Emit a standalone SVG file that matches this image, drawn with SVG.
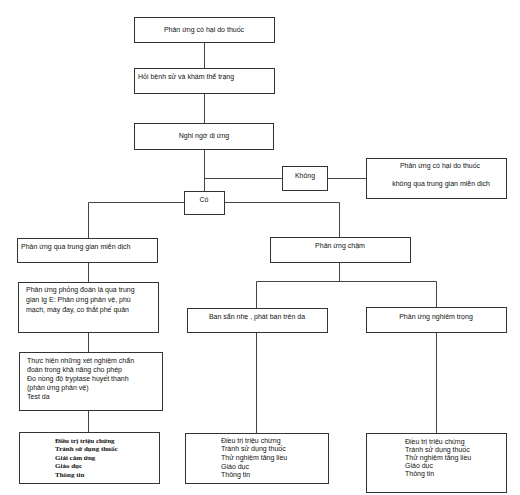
<svg xmlns="http://www.w3.org/2000/svg" width="520" height="495" viewBox="0 0 520 495">
<style>
.box{fill:#fff;stroke:#333;stroke-width:1}
.ln{fill:none;stroke:#444;stroke-width:1}
.t{font-family:"Liberation Sans",Arial,sans-serif;font-size:7px;fill:#111}
.c{text-anchor:middle}
.s{font-family:"Liberation Serif","Times New Roman",serif;font-size:7px;font-weight:bold;fill:#111}
</style>
<rect width="520" height="495" fill="#fff"/>
<g id="connectors">
<path class="ln" d="M204.5 42V68M204.5 93V123M204.5 150V191M204.5 178.5H282M328 178.5H366"/>
<path class="ln" d="M184 202.5H88.5V238M224 202.5H339.5V237M339.5 262V281.5M256.5 281.5H436.5M256.5 281.5V308M436.5 281.5V307"/>
<path class="ln" d="M88.5 262V282M88.5 332V352M88.5 410V432M256.5 332V433M436.5 332V433"/>
</g>
<g id="n1"><rect class="box" x="134.5" y="17.5" width="140" height="25"/><text class="t c" x="204" y="32">Phản ứng có hại do thuốc</text></g>
<g id="n2"><rect class="box" x="134.5" y="68.5" width="140" height="25"/><text class="t" x="138" y="79">Hỏi bệnh sử và khám thể trạng</text></g>
<g id="n3"><rect class="box" x="134.5" y="123.5" width="139" height="26"/><text class="t c" x="204" y="138">Nghi ngờ dị ứng</text></g>
<g id="n4"><rect class="box" x="282.5" y="166.5" width="45" height="24"/><text class="t c" x="305" y="178">Không</text></g>
<g id="n5"><rect class="box" x="366.5" y="158.5" width="140" height="40"/><text class="t c" x="440" y="168">Phản ứng có hại do thuốc</text><text class="t c" x="441" y="186">không qua trung gian miễn dịch</text></g>
<g id="n6"><rect class="box" x="184.5" y="191.5" width="40" height="23"/><text class="t c" x="204" y="202">Có</text></g>
<g id="n7"><rect class="box" x="17.5" y="238.5" width="140" height="24"/><text class="t" x="21" y="249">Phản ứng qua trung gian miễn dịch</text></g>
<g id="n8"><rect class="box" x="270.5" y="237.5" width="140" height="25"/><text class="t c" x="340" y="248">Phản ứng chậm</text></g>
<g id="n9"><rect class="box" x="18.5" y="282.5" width="140" height="50"/><text class="t" x="26" y="292">Phản ứng phỏng đoán là qua trung</text><text class="t" x="26" y="302">gian Ig E: Phản ứng phản vệ, phù</text><text class="t" x="26" y="312">mạch, mày đay, co thắt phế quản</text></g>
<g id="n10"><rect class="box" x="187.5" y="308.5" width="140" height="24"/><text class="t c" x="257" y="319">Ban sẩn nhẹ , phát ban trên da</text></g>
<g id="n11"><rect class="box" x="366.5" y="307.5" width="140" height="25"/><text class="t c" x="436" y="319">Phản ứng nghiêm trọng</text></g>
<g id="n12"><rect class="box" x="19.5" y="352.5" width="143" height="58"/><text class="t" x="27" y="363">Thực hiện những xét nghiệm chẩn</text><text class="t" x="27" y="372">đoán trong khả năng cho phép</text><text class="t" x="27" y="381">Đo nồng độ tryptase huyết thanh</text><text class="t" x="27" y="390">(phản ứng phản vệ)</text><text class="t" x="27" y="399">Test da</text></g>
<g id="n13"><rect class="box" x="19.5" y="432.5" width="140" height="51"/><text class="s" x="55" y="443">Điều trị triệu chứng</text><text class="s" x="55" y="451">Tránh sử dụng thuốc</text><text class="s" x="55" y="460">Giải cảm ứng</text><text class="s" x="55" y="468">Giáo dục</text><text class="s" x="55" y="477">Thông tin</text></g>
<g id="n14"><rect class="box" x="185.5" y="433.5" width="143" height="50"/><text class="t" x="221" y="443">Điều trị triệu chứng</text><text class="t" x="221" y="451">Tránh sử dụng thuốc</text><text class="t" x="221" y="460">Thử nghiệm tăng liều</text><text class="t" x="221" y="469">Giáo dục</text><text class="t" x="221" y="477">Thông tin</text></g>
<g id="n15"><rect class="box" x="366.5" y="433.5" width="140" height="59"/><text class="t" x="405" y="444">Điều trị triệu chứng</text><text class="t" x="405" y="452">Tránh sử dụng thuốc</text><text class="t" x="405" y="460">Thử nghiệm tăng liều</text><text class="t" x="405" y="468">Giáo dục</text><text class="t" x="405" y="476">Thông tin</text></g>
</svg>
